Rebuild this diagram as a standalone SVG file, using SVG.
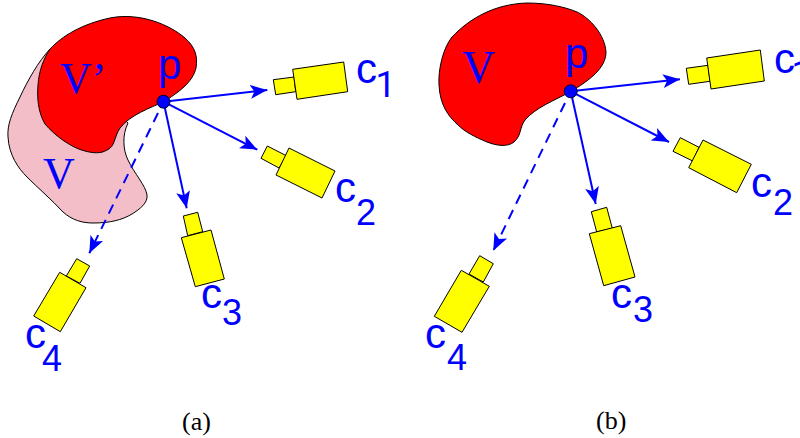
<svg xmlns="http://www.w3.org/2000/svg" width="800" height="438" viewBox="0 0 800 438">
<defs>
<marker id="ah" markerUnits="userSpaceOnUse" markerWidth="18" markerHeight="16" refX="17" refY="8" orient="auto"><path d="M0,1 L17,8 L0,15 L4,8 Z" fill="#0000ff"/></marker>
</defs>
<style>
.cam{fill:#ffff00;stroke:#000;stroke-width:1;stroke-linejoin:miter}
.blob{stroke:#000;stroke-width:1}
.red{fill:#ff0000}
.pink{fill:#f4bec8}
.ray{stroke:#0000ff;stroke-width:2;fill:none;marker-end:url(#ah)}
.dash{stroke-dasharray:10 7}
.dot{fill:#0000ff;stroke:#000033;stroke-width:1}
.lab{font-family:"Liberation Sans",Arial,sans-serif;fill:#0000ff;font-size:42px}
.sub{font-size:36px}
.one{font-family:Roboto,"Liberation Sans",sans-serif;font-size:36px}
.vol{font-family:"Liberation Serif","Times New Roman",serif;fill:#0000ff;font-size:44px}
.cap{font-family:"Liberation Serif","Times New Roman",serif;fill:#000;font-size:26px}
</style>
<rect width="800" height="438" fill="#fff"/>
<g id="volume-a-V">
<path class="blob pink" d="M50,49 C38,62 28,80 20,97 C12,113 7,125 8,137 C9,155 18,168 27,177 C38,188 52,200 63,212 C72,220 82,223 93,223 C110,223 122,220 132,214 C140,209 148,203 147,195 C146,186 134,173 128,160 C123,150 122,135 128,123 Z"/>
<text class="vol" x="43" y="188">V</text>
</g>
<g id="volume-a-Vprime">
<path class="blob red" d="M50,49 C62,36 82,24 110,18 C140,12 170,25 185,38 C195,47 198,56 196,68 C193,82 178,93 163,102 C150,108 130,115 120,128 C114,137 115,147 107,150 C101,154 92,153 85,151 C72,148 55,136 45,124 C38,112 37,98 38,85 C39,70 44,58 50,49 Z"/>
<text class="vol" x="60" y="93">V’</text>
</g>
<g id="volume-b-V">
<path class="blob red" d="M452,37 C470,18 495,4 527,3 C548,3 565,7 577,12 C590,18 605,35 606,52 C606,68 590,80 570,92 C555,100 535,108 525,120 C519,128 522,135 514,142 C508,147 497,146 487,142 C475,137 465,132 458,125 C448,116 440,105 439,85 C438,70 443,48 452,37 Z"/>
<text class="vol" x="462" y="83" style="font-size:46px">V</text>
</g>
<g id="connectors">
<line class="ray" x1="163.5" y1="101.7" x2="267.3" y2="90"/>
<line class="ray" x1="163.5" y1="101.7" x2="257.3" y2="149.7"/>
<line class="ray" x1="163.5" y1="101.7" x2="186.7" y2="208.3"/>
<line class="ray dash" x1="158" y1="113" x2="89.3" y2="253.3"/>
<line class="ray" x1="570.7" y1="91.3" x2="680" y2="79.3"/>
<line class="ray" x1="570.7" y1="91.3" x2="669" y2="142"/>
<line class="ray" x1="570.7" y1="91.3" x2="595.7" y2="204"/>
<line class="ray dash" x1="565" y1="103" x2="493.3" y2="250.7"/>
</g>
<g id="point-a-p">
<circle class="dot" cx="163.5" cy="101.7" r="6.5"/>
<text class="lab" x="158" y="79">p</text>
</g>
<g id="point-b-p">
<circle class="dot" cx="570.7" cy="91.3" r="6.5"/>
<text class="lab" x="565" y="68">p</text>
</g>
<g id="camera-a-c1">
<polygon class="cam" points="273.3,79.7 294,77 295.7,91.7 275.7,94.7"/>
<polygon class="cam" points="292.7,69.3 343.7,62 347.7,91.7 297,99.3"/>
<text class="lab" x="356" y="83">c</text><text class="lab one" x="375.5" y="97">1</text>
</g>
<g id="camera-a-c2">
<polygon class="cam" points="267.3,146 286.3,155.7 279,168 261,158.3"/>
<polygon class="cam" points="289,148 335,171 322,198 276,175"/>
<text class="lab" x="335" y="202">c</text><text class="lab sub" x="356" y="225">2</text>
</g>
<g id="camera-a-c3">
<polygon class="cam" points="183.3,216 197.7,212.3 202.7,231.7 187.7,235.7"/>
<polygon class="cam" points="181.3,237.7 211,230 224.3,279 195.3,286.7"/>
<text class="lab" x="201" y="308">c</text><text class="lab sub" x="222" y="325">3</text>
</g>
<g id="camera-a-c4">
<polygon class="cam" points="76.7,258.7 89.7,266 80,283.3 66.3,276"/>
<polygon class="cam" points="59.7,272.3 86,287.7 60.3,331.7 33.7,316"/>
<text class="lab" x="25" y="348">c</text><text class="lab sub" x="42" y="371">4</text>
</g>
<g id="camera-b-c1">
<polygon class="cam" points="686.3,68.3 708,65.3 710,81.3 688.7,84.3"/>
<polygon class="cam" points="706.7,58 760.3,50 764.3,81 711,89"/>
<text class="lab" x="774" y="73">c</text><text class="lab one" x="791.5" y="86">1</text>
</g>
<g id="camera-b-c2">
<polygon class="cam" points="680.3,137.7 699,147.3 692.7,161 673,151.3"/>
<polygon class="cam" points="703,140 751.3,164.3 736.7,192.7 688.7,167.7"/>
<text class="lab" x="751" y="197">c</text><text class="lab sub" x="773" y="215">2</text>
</g>
<g id="camera-b-c3">
<polygon class="cam" points="591.3,211.7 606.7,207.3 612.3,228.3 596.7,232"/>
<polygon class="cam" points="589.3,233.7 620.7,225.7 635,277 603.7,285.7"/>
<text class="lab" x="611" y="308">c</text><text class="lab sub" x="633" y="322">3</text>
</g>
<g id="camera-b-c4">
<polygon class="cam" points="479.7,255.7 493.3,263.7 483.3,282 469,274"/>
<polygon class="cam" points="461.3,270.3 489.3,286.3 462,332.3 434.3,316.3"/>
<text class="lab" x="425" y="348">c</text><text class="lab sub" x="447" y="370">4</text>
</g>
<text id="caption-a" class="cap" x="182" y="430">(a)</text>
<text id="caption-b" class="cap" x="596" y="429">(b)</text>
</svg>
